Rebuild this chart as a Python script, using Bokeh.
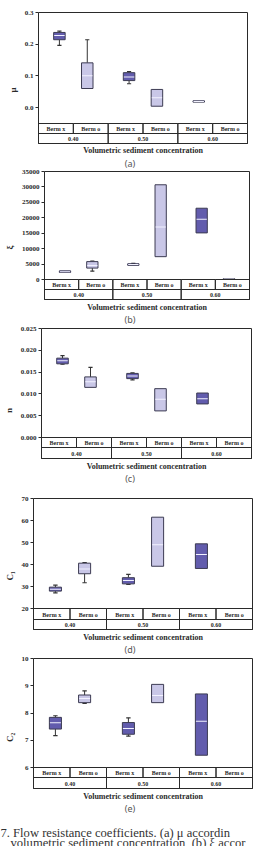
from bokeh.plotting import figure
from bokeh.models import Range1d, FixedTicker, PrintfTickFormatter
from bokeh.layouts import column
from bokeh.embed import file_html
from bokeh.resources import INLINE
from bokeh.core.properties import value

# ---- categories -------------------------------------------------------------
concentrations = ["0.40", "0.50", "0.60"]
berm_cases = ["Berm x", "Berm o"]
x_label = "Volumetric sediment concentration"

# ---- box statistics, order: 0.40 x, 0.40 o, 0.50 x, 0.50 o, 0.60 x, 0.60 o ----
mu_low = [0.196, 0.060, 0.075, 0.004, 0.017, None]
mu_q1 = [0.214, 0.060, 0.085, 0.004, 0.017, None]
mu_med = [0.227, 0.100, 0.096, 0.031, 0.019, None]
mu_q3 = [0.237, 0.141, 0.110, 0.057, 0.021, None]
mu_high = [0.241, 0.214, 0.113, 0.057, 0.021, None]

xi_low = [2300, 2700, 4600, 7400, 15100, 0]
xi_q1 = [2300, 3700, 4600, 7400, 15100, 0]
xi_med = [2550, 4500, 4850, 17000, 19500, 150]
xi_q3 = [2800, 5800, 5100, 30700, 23100, 300]
xi_high = [2800, 6000, 5200, 30700, 23100, 300]

n_low = [0.0168, 0.0115, 0.0132, 0.0061, 0.0077, None]
n_q1 = [0.0169, 0.0115, 0.0135, 0.0061, 0.0077, None]
n_med = [0.0176, 0.0128, 0.0141, 0.0088, 0.0089, None]
n_q3 = [0.0182, 0.0139, 0.0147, 0.0112, 0.0102, None]
n_high = [0.0188, 0.0161, 0.0148, 0.0112, 0.0102, None]

c1_low = [27.1, 31.7, 30.9, 39.2, 38.2, None]
c1_q1 = [27.9, 35.8, 31.2, 39.2, 38.2, None]
c1_med = [28.8, 37.9, 32.7, 49.0, 44.5, None]
c1_q3 = [29.7, 40.6, 34.0, 61.5, 49.4, None]
c1_high = [30.6, 40.9, 35.5, 61.5, 49.4, None]

c2_low = [7.17, 8.35, 7.15, 8.38, 6.45, None]
c2_q1 = [7.41, 8.38, 7.22, 8.38, 6.45, None]
c2_med = [7.64, 8.53, 7.43, 8.64, 7.70, None]
c2_q3 = [7.84, 8.66, 7.65, 9.05, 8.70, None]
c2_high = [7.90, 8.81, 7.82, 9.05, 8.70, None]

# ---- y axes -----------------------------------------------------------------
mu_ticks = [0.0, 0.1, 0.2, 0.3]
xi_ticks = [0, 5000, 10000, 15000, 20000, 25000, 30000, 35000]
n_ticks = [0.000, 0.005, 0.010, 0.015, 0.020, 0.025]
c1_ticks = [20, 30, 40, 50, 60, 70]
c2_ticks = [6, 7, 8, 9, 10]

caption_lines = ["7. Flow resistance coefficients. (a) \u03bc accordin",
                 "volumetric sediment concentration, (b) \u03be accor"]

# ---- styling ----------------------------------------------------------------
SERIF = "Liberation Serif"
INK = "#2a2a2a"
DARK_BOX = "#625cad"
LIGHT_BOX = "#c9c7e7"
BOX_EDGE = "#3c3b52"
MEDIAN = "#f2f2ff"
PAGE_W = 254


def box_panel(tag, ylabel, ticks, fmt, low, q1, med, q3, high, lay):
    fig_top, H = lay["fig_top"], lay["height"]
    L, R = lay["box_left"], lay["box_right"]
    top = lay["box_top"] - fig_top
    pad = 2
    slot = (R - L) / 6.0

    # data units per pixel from the top tick and one lower tick
    px_anchor = lay["anchor_px"] - fig_top
    k = (ticks[-1] - lay["anchor_value"]) / (px_anchor - top)
    frame_top = max(top - pad, 0)
    y_end = ticks[-1] + (top - frame_top) * k
    y_start = ticks[-1] - (H - top) * k

    p = figure(width=PAGE_W, height=H, output_backend="svg", toolbar_location=None,
               x_range=Range1d(-pad / slot, 6 + pad / slot),
               y_range=Range1d(y_start, y_end),
               x_axis_location=None, title=None, frame_align=False,
               min_border_left=L - pad, min_border_right=PAGE_W - R - pad,
               min_border_top=frame_top, min_border_bottom=0)
    p.extra_y_ranges = {"px": Range1d(start=H, end=frame_top)}
    p.outline_line_color = None
    p.grid.visible = False
    p.background_fill_color = "white"
    p.border_fill_color = "white"

    ax = p.yaxis[0]
    ax.ticker = FixedTicker(ticks=ticks)
    ax.formatter = PrintfTickFormatter(format=fmt)
    ax.axis_line_color = None
    ax.major_tick_out = 1
    ax.major_tick_in = 2
    ax.major_tick_line_color = INK
    ax.minor_tick_line_color = None
    ax.major_label_standoff = 2
    ax.major_label_text_font = SERIF
    ax.major_label_text_font_style = "bold"
    ax.major_label_text_font_size = "7px"
    ax.major_label_text_color = INK
    ax.axis_label = ylabel
    ax.axis_label_text_font = SERIF
    ax.axis_label_text_font_style = "bold"
    ax.axis_label_text_font_size = "9px"
    ax.axis_label_text_color = INK
    ax.axis_label_standoff = 4

    # box positions: one slot per (concentration, berm) pair, nudged inward
    xs, cols, lo, b1, md, b3, hi = [], [], [], [], [], [], []
    for g, conc in enumerate(concentrations):
        for b, case in enumerate(berm_cases):
            i = g * 2 + b
            if q1[i] is None:
                continue
            xs.append(i + 0.5 + (0.1 if b == 0 else -0.1))
            cols.append(DARK_BOX if b == 0 else LIGHT_BOX)
            lo.append(low[i]); b1.append(q1[i]); md.append(med[i])
            b3.append(q3[i]); hi.append(high[i])

    p.segment(x0=xs, y0=b3, x1=xs, y1=hi, line_color="#333333", line_width=1)
    p.segment(x0=xs, y0=b1, x1=xs, y1=lo, line_color="#333333", line_width=1)
    cap_x = [x for x, a, c in zip(xs, b3, hi) if c > a]
    cap_y = [c for a, c in zip(b3, hi) if c > a]
    p.rect(x=cap_x, y=cap_y, width=0.12, height=1.2, height_units="screen",
           fill_color="#333333", line_color=None)
    cap_x = [x for x, a, c in zip(xs, b1, lo) if c < a]
    cap_y = [c for a, c in zip(b1, lo) if c < a]
    p.rect(x=cap_x, y=cap_y, width=0.12, height=1.2, height_units="screen",
           fill_color="#333333", line_color=None)
    p.vbar(x=xs, width=0.33, bottom=b1, top=b3, fill_color=cols,
           line_color=BOX_EDGE, line_width=1)
    p.rect(x=xs, y=md, width=0.3, height=1, height_units="screen",
           fill_color=MEDIAN, line_color=None)

    # frame and category table underneath
    r0, r1, r2 = [r - fig_top for r in lay["rows"]]
    p.quad(left=[0], right=[6], top=[top], bottom=[r2], y_range_name="px",
           fill_color=None, line_color=INK, line_width=1)
    cell_x = [i + 0.5 for i in range(6)]
    cell_txt = [case for conc in concentrations for case in berm_cases]
    p.rect(x=cell_x, y=(r0 + r1) / 2, width=1, height=r1 - r0, y_range_name="px",
           fill_color=None, line_color=INK, line_width=1)
    grp_x = [g * 2 + 1 for g in range(len(concentrations))]
    p.rect(x=grp_x, y=(r1 + r2) / 2, width=2, height=r2 - r1, y_range_name="px",
           fill_color=None, line_color=INK, line_width=1)
    p.text(x=cell_x, y=[(r0 + r1) / 2 + 0.5] * 6, text=cell_txt, y_range_name="px",
           text_align="center", text_baseline="middle", text_font=value(SERIF),
           text_font_style="bold", text_font_size="6px", text_color=INK)
    p.text(x=grp_x, y=[(r1 + r2) / 2 + 0.5] * 3, text=concentrations, y_range_name="px",
           text_align="center", text_baseline="middle", text_font=value(SERIF),
           text_font_style="bold", text_font_size="6px", text_color=INK)

    p.text(x=[3], y=[lay["xlabel_px"] - fig_top], text=[x_label], y_range_name="px",
           text_align="center", text_baseline="middle", text_font=value(SERIF),
           text_font_style="bold", text_font_size="8px", text_color=INK)
    p.text(x=[(129.5 - L) / slot], y=[lay["tag_px"] - fig_top], text=[tag],
           y_range_name="px", text_align="center", text_baseline="middle",
           text_font=value("Noto Sans"), text_font_size="9px", text_color="#555555")
    return p


layouts = [
    dict(fig_top=0, height=169, box_left=38, box_right=247, box_top=12,
         anchor_px=107, anchor_value=0.0, rows=[123, 133, 143], xlabel_px=150, tag_px=163),
    dict(fig_top=169, height=156, box_left=44, box_right=249, box_top=171,
         anchor_px=279, anchor_value=0, rows=[279, 289, 299], xlabel_px=307, tag_px=319),
    dict(fig_top=325, height=169, box_left=41, box_right=251, box_top=328,
         anchor_px=437, anchor_value=0.0, rows=[437, 447, 458], xlabel_px=466, tag_px=478),
    dict(fig_top=494, height=161, box_left=33, box_right=252, box_top=498,
         anchor_px=608, anchor_value=20, rows=[608, 619, 629], xlabel_px=637, tag_px=648.5),
    dict(fig_top=655, height=163, box_left=33, box_right=252, box_top=658,
         anchor_px=767, anchor_value=6, rows=[767, 777, 788], xlabel_px=796, tag_px=808),
]

panels = [
    box_panel("(a)", "\u03bc", mu_ticks, "%.1f", mu_low, mu_q1, mu_med, mu_q3, mu_high, layouts[0]),
    box_panel("(b)", "\u03be", xi_ticks, "%d", xi_low, xi_q1, xi_med, xi_q3, xi_high, layouts[1]),
    box_panel("(c)", "n", n_ticks, "%.3f", n_low, n_q1, n_med, n_q3, n_high, layouts[2]),
    box_panel("(d)", "C\u2081", c1_ticks, "%d", c1_low, c1_q1, c1_med, c1_q3, c1_high, layouts[3]),
    box_panel("(e)", "C\u2082", c2_ticks, "%d", c2_low, c2_q1, c2_med, c2_q3, c2_high, layouts[4]),
]

# figure caption beneath the panels
cap = figure(width=PAGE_W, height=28, output_backend="svg", toolbar_location=None,
             x_range=Range1d(0, PAGE_W), y_range=Range1d(28, 0),
             x_axis_location=None, y_axis_location=None, title=None, min_border=0,
             frame_align=False)
cap.outline_line_color = None
cap.grid.visible = False
cap.text(x=[0, 10], y=[14, 24.5], text=caption_lines, text_align="left",
         text_baseline="alphabetic", text_font=value(SERIF), text_font_size="12.6px",
         text_color="#333333")

page = column(*panels, cap, spacing=0)
open("out.html", "w").write(file_html(page, INLINE))
